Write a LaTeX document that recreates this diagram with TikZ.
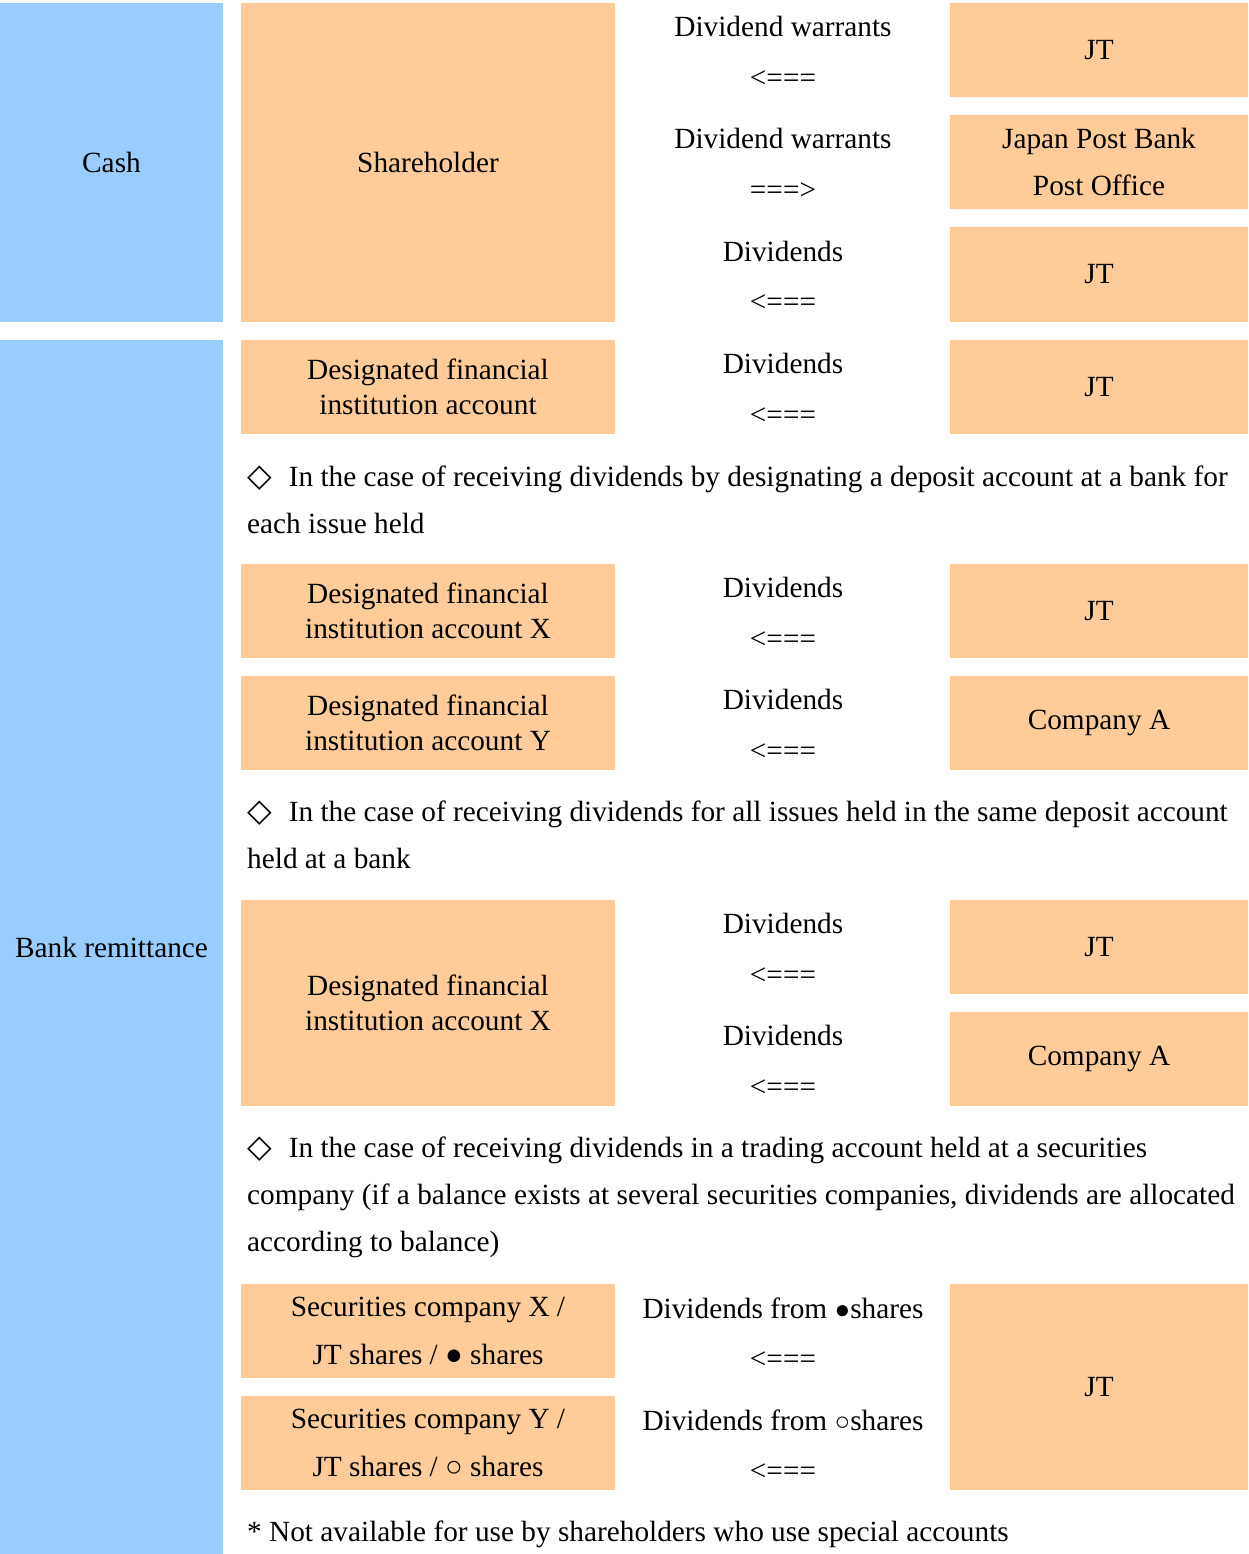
\documentclass[tikz,border=0pt]{standalone}
\usepackage{fontspec}
\setmainfont{Liberation Serif}
\newfontfamily\symfont{DejaVu Sans}
\definecolor{payblue}{HTML}{99CCFF}
\definecolor{payorange}{HTML}{FFCC99}
\newcommand{\notemark}{{\symfont\fontsize{32}{35}\selectfont\char"25C7}\hspace{17pt}}

\begin{document}
\begin{tikzpicture}
  [x=1pt,y=-1pt,font=\fontsize{29.3}{35}\selectfont,
   paykind/.style={fill=payblue,minimum width=223pt,inner sep=0pt},
   payer/.style={fill=payorange,minimum width=298pt,minimum height=94pt,inner sep=0pt,align=center},
   holder/.style={fill=payorange,minimum width=374pt,minimum height=94pt,inner sep=0pt,align=center},
   flow/.style={align=center,inner sep=0pt,yshift=-2pt},
   casenote/.style={anchor=north west,align=left,inner sep=0pt}]
  \useasboundingbox (0,0) rectangle (1248,1554);

  % payment kinds
  \node[paykind,minimum height=319pt] (cash) at (111.5,162.5) {Cash};
  \node[paykind,minimum height=1214pt] (bank) at (111.5,947) {Bank remittance};

  % cash
  \node[holder,minimum height=319pt] (h1) at (428,162.5) {Shareholder};
  \node[payer] (p1) at (1099,50) {JT};
  \node[payer] (p2) at (1099,162) {Japan Post Bank\\[12pt]Post Office};
  \node[payer] (p3) at (1099,274.5) {JT};
  \node[flow] (f1) at (783,50) {Dividend warrants\\[15.5pt]<===};
  \node[flow] (f2) at (783,162) {Dividend warrants\\[15.5pt]===>};
  \node[flow] (f3) at (783,274.5) {Dividends\\[15.5pt]<===};

  % bank remittance
  \node[holder] (h2) at (428,387) {Designated financial\\institution account};
  \node[payer] (p4) at (1099,387) {JT};
  \node[flow] (f4) at (783,387) {Dividends\\[15.5pt]<===};

  \node[casenote] (c1) at (247,466) {\notemark In the case of receiving dividends by designating a deposit account at a bank for\\[12pt]each issue held};

  \node[holder] (h3) at (428,611) {Designated financial\\institution account X};
  \node[payer] (p5) at (1099,611) {JT};
  \node[flow] (f5) at (783,611) {Dividends\\[15.5pt]<===};
  \node[holder] (h4) at (428,723) {Designated financial\\institution account Y};
  \node[payer] (p6) at (1099,723) {Company A};
  \node[flow] (f6) at (783,723) {Dividends\\[15.5pt]<===};

  \node[casenote] (c2) at (247,801) {\notemark In the case of receiving dividends for all issues held in the same deposit account\\[12pt]held at a bank};

  \node[holder,minimum height=206pt] (h5) at (428,1003) {Designated financial\\institution account X};
  \node[payer] (p7) at (1099,947) {JT};
  \node[flow] (f7) at (783,947) {Dividends\\[15.5pt]<===};
  \node[payer] (p8) at (1099,1059) {Company A};
  \node[flow] (f8) at (783,1059) {Dividends\\[15.5pt]<===};

  \node[casenote] (c3) at (247,1137) {\notemark In the case of receiving dividends in a trading account held at a securities\\[12pt]company (if a balance exists at several securities companies, dividends are allocated\\[12pt]according to balance)};

  \node[holder] (h6) at (428,1331) {Securities company X /\\[12.5pt]JT shares / \char"25CF\ shares};
  \node[holder] (h7) at (428,1443) {Securities company Y /\\[12.5pt]JT shares / \char"25CB\ shares};
  \node[payer,minimum height=206pt] (p9) at (1099,1387) {JT};
  \node[flow] (f9) at (783,1331) {Dividends from {\fontsize{26}{26}\selectfont\char"25CF}shares\\[15.5pt]<===};
  \node[flow] (f10) at (783,1443) {Dividends from {\fontsize{26}{26}\selectfont\char"25CB}shares\\[15.5pt]<===};

  \node[casenote] (c4) at (247,1521) {* Not available for use by shareholders who use special accounts};
\end{tikzpicture}
\end{document}
